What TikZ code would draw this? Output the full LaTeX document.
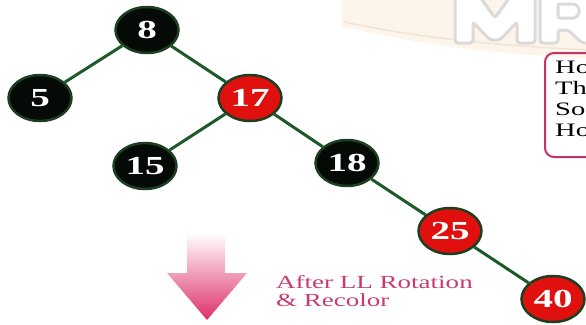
\documentclass[tikz,border=0pt]{standalone}
\usepackage{fontspec}
\setmainfont{Liberation Serif}
\usetikzlibrary{shapes.geometric,backgrounds}
\definecolor{edgegreen}{HTML}{1C5A2B}
\definecolor{bordergreen}{HTML}{1C3F22}
\definecolor{nodered}{HTML}{E0100F}
\definecolor{nodeblack}{HTML}{060A06}
\definecolor{pinktext}{HTML}{C73B74}
\definecolor{boxpink}{HTML}{C8326A}
\definecolor{arrowpinkA}{HTML}{E8507F}
\definecolor{arrowpinkB}{HTML}{DE2F66}
\definecolor{beige}{HTML}{FDF5EA}
\definecolor{beigeline}{HTML}{EFE4D7}
\definecolor{wmgrey}{HTML}{DADADA}
\tikzset{
  rbnode/.style={ellipse, minimum width=63pt, minimum height=46pt, inner sep=0pt,
    draw=bordergreen, line width=2.5pt, text=white,
    font=\fontsize{26}{26}\selectfont\bfseries},
  blk/.style={rbnode, fill=nodeblack},
  rd/.style={rbnode, fill=nodered},
  edge/.style={draw=edgegreen, line width=3pt},
  caption/.style={text=pinktext, font=\fontsize{18.5}{18.5}\selectfont, anchor=base west, inner sep=0pt},
  boxtext/.style={text=black, font=\fontsize{19}{19}\selectfont, anchor=base west, inner sep=0pt},
}
\newcommand{\wide}[1]{\scalebox{1.5}[1]{#1}}
\newcommand{\widec}[1]{\scalebox{1.46}[1]{#1}}
\begin{document}
\begin{tikzpicture}[x=1pt,y=-1pt]
\useasboundingbox (0,0) rectangle (586,324);
\clip (0,0) rectangle (586,324);
% watermark background
\fill[beige] (342,-2) -- (342,26) .. controls (420,45) and (500,55) .. (590,58) -- (590,-2) -- cycle;
\draw[beigeline, line width=1.5pt] (344,22) .. controls (420,38) and (500,46) .. (590,50);
% watermark letters
\draw[wmgrey, fill=white, line width=3pt, rounded corners=3pt]
  (455,43) -- (455,-6) -- (478,-6) -- (495,18) -- (512,-6) -- (535,-6) -- (535,43)
  -- (517,43) -- (517,22) -- (500,40) -- (490,40) -- (473,22) -- (473,43) -- cycle;
\draw[wmgrey, fill=white, line width=3pt, rounded corners=3pt]
  (540,43) -- (540,-6) -- (582,-6) -- (598,8) -- (598,20) -- (588,28) -- (604,43)
  -- (582,43) -- (568,30) -- (558,30) -- (558,43) -- cycle;
\draw[wmgrey, fill=white, line width=3pt, rounded corners=2pt]
  (558,4) -- (576,4) -- (580,11) -- (576,18) -- (558,18) -- cycle;
% info box
\draw[boxpink, line width=2pt, rounded corners=9pt] (545,53) rectangle (610,157);
\node[boxtext] (b1) at (555,73) {\wide{Ho}};
\node[boxtext] (b2) at (555,94) {\wide{Th}};
\node[boxtext] (b3) at (555,115) {\wide{So}};
\node[boxtext] (b4) at (555,136) {\wide{Ho}};
% tree nodes
\node[blk] (n8) at (147,30) {\wide{8}};
\node[blk] (n5) at (40,98) {\wide{5}};
\node[rd] (n17) at (250,98) {\wide{17}};
\node[blk] (n15) at (145,166) {\wide{15}};
\node[blk] (n18) at (347,163) {\wide{18}};
\node[rd] (n25) at (450,231) {\wide{25}};
\node[rd] (n40) at (553,299) {\wide{40}};
% edges
\path[edge] (n8) -- (n5);
\path[edge] (n8) -- (n17);
\path[edge] (n17) -- (n15);
\path[edge] (n17) -- (n18);
\path[edge] (n18) -- (n25);
\path[edge] (n25) -- (n40);
% arrow
\shade[top color=white, middle color=arrowpinkA, bottom color=arrowpinkB]
  (187,233) -- (225,233) -- (225,273) -- (247,273) -- (207,320) -- (167,273) -- (187,273) -- cycle;
% caption
\node[caption] (c1) at (276,288) {\widec{After LL Rotation}};
\node[caption] (c2) at (276,306) {\widec{\& Recolor}};
\end{tikzpicture}
\end{document}
